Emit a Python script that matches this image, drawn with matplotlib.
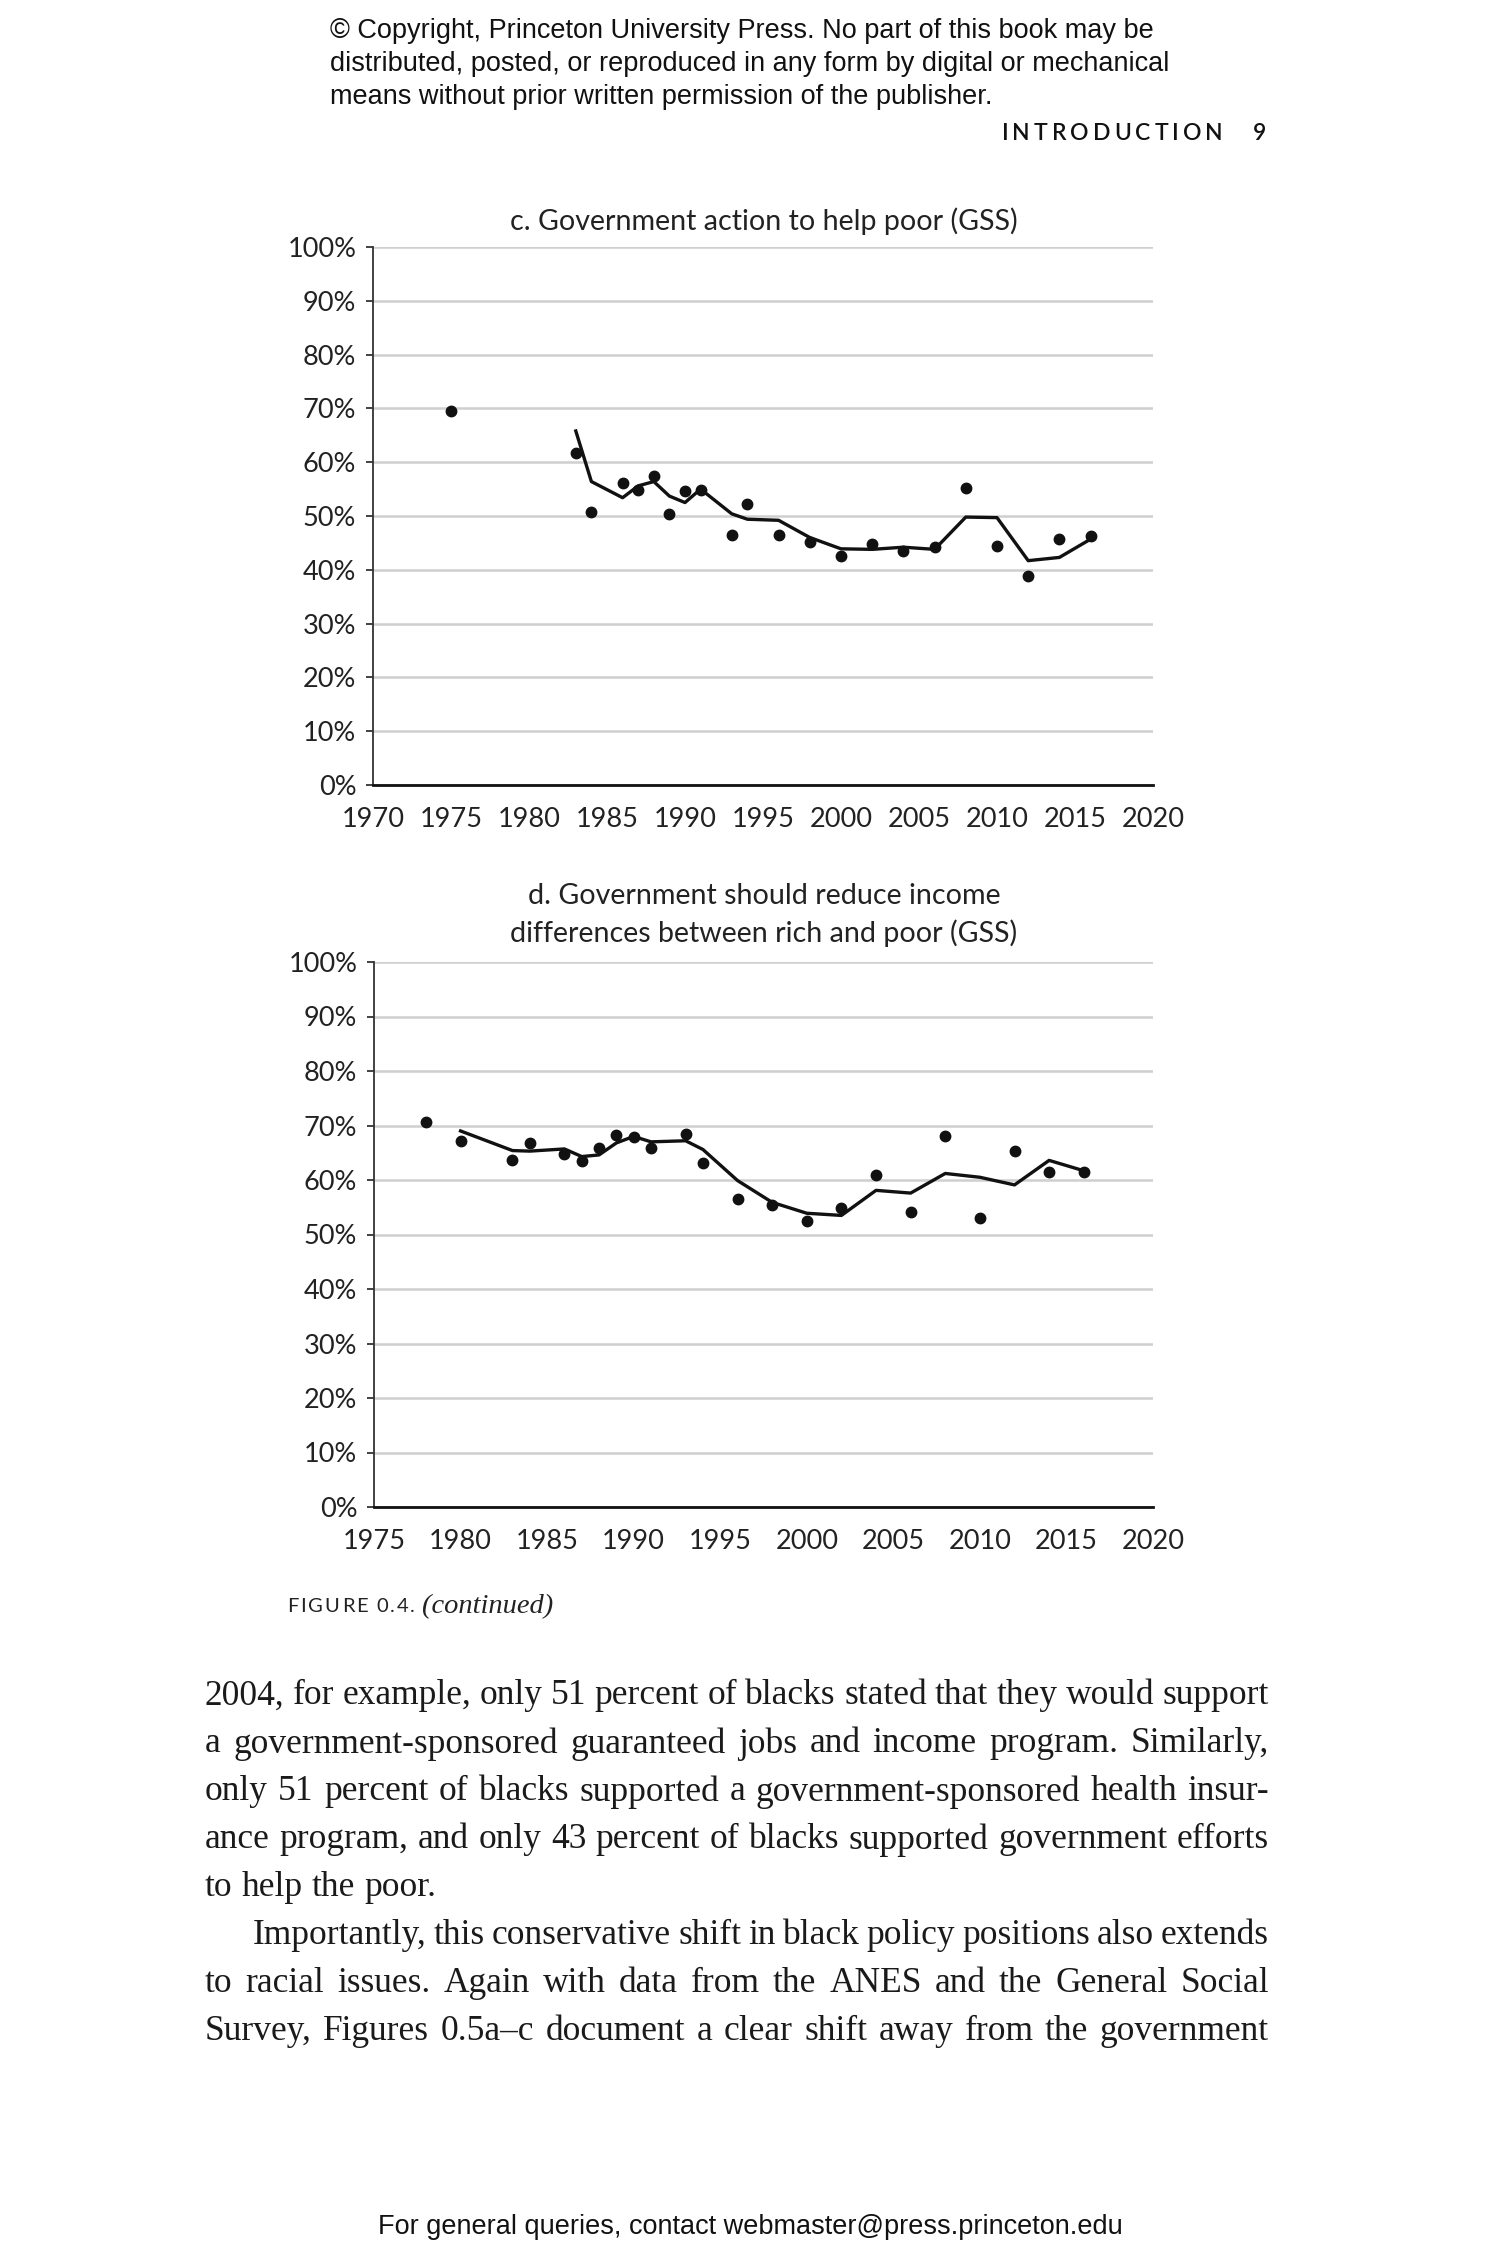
import matplotlib
matplotlib.use('Agg')
import matplotlib.pyplot as plt

W, H = 1500, 2265

# Panel c: Government action to help poor (GSS)
c_pt_years = [1975, 1983, 1984, 1986, 1987, 1988, 1989, 1990, 1991, 1993, 1994,
              1996, 1998, 2000, 2002, 2004, 2006, 2008, 2010, 2012, 2014, 2016]
c_pt_vals = [69.6, 61.8, 50.8, 56.2, 54.9, 57.5, 50.4, 54.7, 54.8, 46.4, 52.2,
             46.4, 45.1, 42.5, 44.8, 43.5, 44.2, 55.2, 44.4, 38.9, 45.8, 46.2]
c_line_years = [1983, 1984, 1986, 1987, 1988, 1989, 1990, 1991, 1993, 1994, 1996,
                1998, 2000, 2002, 2004, 2006, 2008, 2010, 2012, 2014, 2016]
c_line_vals = [65.8, 56.4, 53.4, 55.6, 56.4, 53.7, 52.5, 55.0, 50.4, 49.4, 49.2,
               46.0, 43.9, 43.8, 44.2, 43.8, 49.8, 49.7, 41.7, 42.3, 45.7]

# Panel d: Government should reduce income differences (GSS)
d_pt_years = [1978, 1980, 1983, 1984, 1986, 1987, 1988, 1989, 1990, 1991, 1993,
              1994, 1996, 1998, 2000, 2002, 2004, 2006, 2008, 2010, 2012, 2014, 2016]
d_pt_vals = [70.6, 67.1, 63.6, 66.8, 64.8, 63.5, 65.8, 68.3, 67.9, 65.9, 68.5,
             63.2, 56.6, 55.4, 52.4, 54.8, 61.0, 54.2, 68.0, 53.0, 65.3, 61.5, 61.4]
d_line_years = [1980, 1983, 1984, 1986, 1987, 1988, 1989, 1990, 1991, 1993, 1994,
                1996, 1998, 2000, 2002, 2004, 2006, 2008, 2010, 2012, 2014, 2016]
d_line_vals = [69.0, 65.4, 65.3, 65.7, 64.3, 64.6, 66.8, 68.0, 67.0, 67.2, 65.6,
               59.9, 55.9, 53.9, 53.5, 58.1, 57.6, 61.2, 60.5, 59.1, 63.6, 61.7]

y_ticks = list(range(0, 101, 10))
y_labels = [f'{v}%' for v in y_ticks]

header_lines = [
    '© Copyright, Princeton University Press. No part of this book may be',
    'distributed, posted, or reproduced in any form by digital or mechanical',
    'means without prior written permission of the publisher.',
]
body_lines = [
    '2004, for example, only 51 percent of blacks stated that they would support',
    'a government-sponsored guaranteed jobs and income program. Similarly,',
    'only 51 percent of blacks supported a government-sponsored health insur-',
    'ance program, and only 43 percent of blacks supported government efforts',
    'to help the poor.',
    'Importantly, this conservative shift in black policy positions also extends',
    'to racial issues. Again with data from the ANES and the General Social',
    'Survey, Figures 0.5a\u2013c document a clear shift away from the government',
]

SANS = ['Lato', 'DejaVu Sans']
SERIF = ['Liberation Serif', 'DejaVu Serif']
ARIAL = ['Liberation Sans', 'DejaVu Sans']

fig = plt.figure(figsize=(W / 100, H / 100), dpi=100)
fig.patch.set_facecolor('white')
renderer = fig.canvas.get_renderer()


def fx(x):
    return x / W


def fy(y):
    return 1 - y / H


def make_panel(box, xlim, xticks, pt_x, pt_y, ln_x, ln_y):
    left, top, right, bottom = box
    ax = fig.add_axes([fx(left), fy(bottom), (right - left) / W, (bottom - top) / H])
    ax.set_xlim(*xlim)
    ax.set_ylim(0, 100)
    ax.set_yticks(y_ticks)
    ax.set_yticklabels(y_labels)
    ax.set_xticks(xticks)
    ax.set_xticklabels([str(t) for t in xticks])
    for lab in ax.get_xticklabels() + ax.get_yticklabels():
        lab.set_family(SANS)
        lab.set_fontsize(19.5)
        lab.set_color('#222222')
    ax.tick_params(axis='y', length=5, width=1.3, color='#333333', pad=7)
    ax.tick_params(axis='x', length=0, pad=15.5)
    ax.spines['top'].set_visible(False)
    ax.spines['right'].set_visible(False)
    ax.spines['left'].set_color('#333333')
    ax.spines['left'].set_linewidth(1.3)
    ax.spines['bottom'].set_color('#111111')
    ax.spines['bottom'].set_linewidth(2)
    ax.yaxis.grid(True, color='#cfcfcf', linewidth=1.8)
    ax.set_axisbelow(True)
    ax.plot(ln_x, ln_y, color='#111111', linewidth=2.4, zorder=3)
    ax.plot(pt_x, pt_y, 'o', color='#111111', markersize=7.5, zorder=4,
            clip_on=False)
    return ax


make_panel((373, 247, 1153, 785), (1970, 2020), list(range(1970, 2021, 5)),
           c_pt_years, c_pt_vals, c_line_years, c_line_vals)
make_panel((374, 962, 1153, 1507), (1975, 2020), list(range(1975, 2021, 5)),
           d_pt_years, d_pt_vals, d_line_years, d_line_vals)

title_kw = dict(ha='center', va='center', family=SANS, fontsize=20.6, color='#222222')
fig.text(fx(764), fy(221), 'c. Government action to help poor (GSS)', **title_kw)
fig.text(fx(764), fy(896), 'd. Government should reduce income', **title_kw)
fig.text(fx(764), fy(933), 'differences between rich and poor (GSS)', **title_kw)


def spaced(x, y, s, size, track, right=False, **kw):
    # draw a string letter by letter with extra tracking (pixels)
    texts, widths = [], []
    for ch in s:
        t = fig.text(0, fy(y), ch, ha='left', va='center', fontsize=size, **kw)
        w = size * 0.28 if ch == ' ' else t.get_window_extent(renderer).width
        texts.append(t)
        widths.append(w)
    total = sum(widths) + track * (len(s) - 1)
    cx = x - total if right else x
    for t, w in zip(texts, widths):
        t.set_x(fx(cx))
        cx += w + track
    return cx


# page header
for i, line in enumerate(header_lines):
    fig.text(fx(330), fy(31 + 33 * i), line, ha='left', va='center',
             family=ARIAL, fontsize=19.5, color='#111111')
spaced(1266, 134, 'INTRODUCTION   9', 16.5, 4.0, right=True,
       family=SANS, weight='semibold', color='#111111')

# figure caption
end = spaced(287, 1607, 'FIGURE 0.4.', 14.5, 2.0, family=SANS, color='#222222')
fig.text(fx(end + 5), fy(1607), '(continued)', ha='left', va='center',
         family=SERIF, style='italic', fontsize=20.5, color='#222222')


def justify(line, y, x0, x1, size, stretch=True):
    words = line.split(' ')
    texts = [fig.text(0, fy(y), w, ha='left', va='center_baseline', family=SERIF,
                      fontsize=size, color='#1a1a1a') for w in words]
    widths = [t.get_window_extent(renderer).width for t in texts]
    if stretch and len(words) > 1:
        gap = (x1 - x0 - sum(widths)) / (len(words) - 1)
    else:
        gap = size * 0.35
    x = x0
    for t, w in zip(texts, widths):
        t.set_x(fx(x))
        x += w + gap


body_y = [1692, 1740, 1788, 1836, 1883, 1931, 1979, 2027]
for i, (line, y) in enumerate(zip(body_lines, body_y)):
    x0 = 253 if i == 5 else 205
    justify(line, y, x0, 1269, 25.5, stretch=(i != 4))

fig.text(fx(750), fy(2227), 'For general queries, contact webmaster@press.princeton.edu',
         ha='center', va='center', family=ARIAL, fontsize=19.5, color='#111111')

fig.savefig('out.png', dpi=100, facecolor='white')
